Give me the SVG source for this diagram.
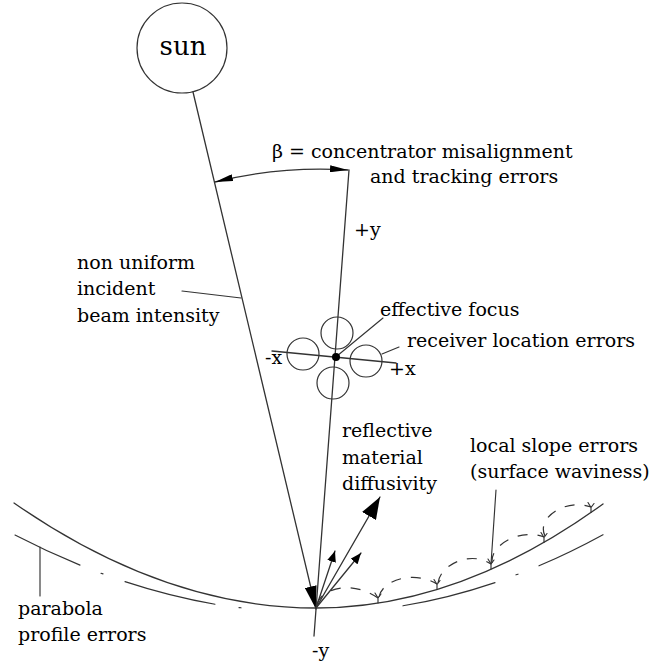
<svg xmlns="http://www.w3.org/2000/svg" width="654" height="666" viewBox="0 0 654 666">
  <defs>
    <style>
      .ln { fill: none; stroke: #333; stroke-width: 1.3; stroke-linecap: round; }
      .thin { fill: none; stroke: #333; stroke-width: 1.15; stroke-linecap: round; }
      .dash { fill: none; stroke: #333; stroke-width: 1.2; stroke-dasharray: 10 10; }
      .ring { fill: #fff; stroke: #333; stroke-width: 1.2; }
      .txt { font-family: "DejaVu Serif", "Liberation Serif", serif; font-size: 19px; fill: #000; }
      .head { fill: #000; stroke: none; }
    </style>
    <!-- arrowheads, drawn pointing along +x with the tip at refX -->
    <marker id="head-incident" markerUnits="userSpaceOnUse" markerWidth="24" markerHeight="12" refX="23" refY="6" orient="auto">
      <path class="head" d="M0,0 L23,6 L0,12 z"/>
    </marker>
    <marker id="head-big" markerUnits="userSpaceOnUse" markerWidth="23" markerHeight="16" refX="22" refY="8" orient="auto">
      <path class="head" d="M0,0 L22,8 L0,16 z"/>
    </marker>
    <marker id="head-small" markerUnits="userSpaceOnUse" markerWidth="12" markerHeight="9" refX="11" refY="4.5" orient="auto">
      <path class="head" d="M0,0 L11,4.5 L0,9 z"/>
    </marker>
    <marker id="head-beta" markerUnits="userSpaceOnUse" markerWidth="19" markerHeight="7" refX="18" refY="3.5" orient="auto-start-reverse">
      <path class="head" d="M0,0 L18,3.5 L0,7 z"/>
    </marker>
    <!-- small Y-shaped foot where a waviness scallop meets the surface -->
    <path id="foot" class="thin" d="M0,0 L0,-5 M-3,-10 L0,-5 L3,-9"/>
  </defs>

  <rect width="654" height="666" fill="#fff"/>

  <!-- sun -->
  <g id="sun">
    <circle class="ring" cx="182" cy="48" r="45"/>
    <text class="txt" x="183" y="55" text-anchor="middle" style="font-size:26px">sun</text>
  </g>

  <!-- parabolic concentrator surface -->
  <g id="concentrator">
    <path class="ln" d="M14,503 Q165,608 316,608 Q459.5,608 603,504"/>
    <!-- profile-error offset curve -->
    <path class="thin" d="M15,535 Q47.5,551.9 80,565.1"/>
    <path class="thin" d="M101,573.3 L103,573.9"/>
    <path class="thin" d="M125,581.6 Q170,596.4 215,604.2"/>
    <path class="thin" d="M239,607.6 L241,607.8"/>
    <path class="thin" d="M403,605.8 Q449,598.2 495,582.6"/>
    <path class="thin" d="M516,574.8 L518,574.2"/>
    <path class="thin" d="M539,565.8 Q571,552.2 603,534.7"/>
  </g>

  <!-- surface waviness scallops -->
  <g id="waviness">
    <path class="dash" d="M317,604 C322,588 352,580 378,598"/>
    <path class="dash" d="M379,597 C382,580 414,570 437,584"/>
    <path class="dash" d="M438,583 C440,565 470,550 491,564"/>
    <path class="dash" d="M492,563 C490,545 520,528 544,537"/>
    <path class="dash" d="M545,536 C536,518 565,498 591,507"/>
    <use href="#foot" x="378" y="603"/>
    <use href="#foot" x="437" y="589.5"/>
    <use href="#foot" x="491" y="569"/>
    <use href="#foot" x="544" y="542.5"/>
    <use href="#foot" x="591" y="512.5"/>
  </g>

  <!-- receiver: effective focus with the four displaced positions -->
  <g id="receiver">
    <circle class="ring" cx="337" cy="333" r="16"/>
    <circle class="ring" cx="303" cy="354" r="16"/>
    <circle class="ring" cx="366" cy="361" r="16"/>
    <circle class="ring" cx="333" cy="383" r="16"/>
  </g>

  <!-- rays, axes and leader lines -->
  <g id="connectors">
    <line class="ln" x1="193" y1="92" x2="316" y2="609" marker-end="url(#head-incident)"/>
    <line class="ln" x1="349" y1="170" x2="314" y2="636"/>
    <line class="ln" x1="272" y1="351" x2="396" y2="363"/>
    <path class="ln" d="M348,170 A438,438 0 0 0 215,182" marker-start="url(#head-beta)" marker-end="url(#head-beta)"/>
    <line class="ln" x1="316" y1="608" x2="380" y2="497" marker-end="url(#head-big)"/>
    <line class="ln" x1="316" y1="608" x2="335" y2="551" marker-end="url(#head-small)"/>
    <line class="ln" x1="316" y1="608" x2="361" y2="553" marker-end="url(#head-small)"/>
    <line class="thin" x1="182" y1="291" x2="241" y2="298"/>
    <line class="thin" x1="337" y1="356" x2="383" y2="318"/>
    <line class="thin" x1="382" y1="354" x2="399" y2="347"/>
    <line class="thin" x1="496" y1="490" x2="491" y2="564"/>
    <line class="thin" x1="40" y1="547" x2="40" y2="596"/>
  </g>

  <g id="focus">
    <circle cx="336" cy="357" r="4" fill="#000"/>
  </g>

  <!-- labels -->
  <g id="labels">
    <text class="txt" x="272" y="158">β = concentrator misalignment</text>
    <text class="txt" x="370" y="183">and tracking errors</text>
    <text class="txt" x="354" y="236">+y</text>
    <text class="txt" x="77" y="269">non uniform</text>
    <text class="txt" x="77" y="295">incident</text>
    <text class="txt" x="77" y="322">beam intensity</text>
    <text class="txt" x="380" y="316">effective focus</text>
    <text class="txt" x="407" y="347">receiver location errors</text>
    <text class="txt" x="265" y="364">-x</text>
    <text class="txt" x="389" y="375">+x</text>
    <text class="txt" x="342" y="437">reflective</text>
    <text class="txt" x="342" y="464">material</text>
    <text class="txt" x="342" y="490">diffusivity</text>
    <text class="txt" x="470" y="452">local slope errors</text>
    <text class="txt" x="470" y="478">(surface waviness)</text>
    <text class="txt" x="18" y="615">parabola</text>
    <text class="txt" x="18" y="641">profile errors</text>
    <text class="txt" x="312" y="657">-y</text>
  </g>
</svg>
